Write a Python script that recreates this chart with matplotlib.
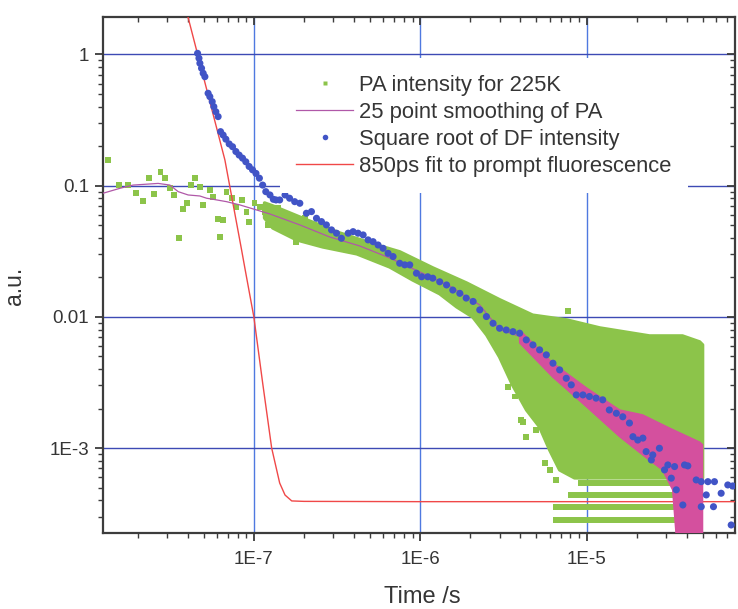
import numpy as np
import matplotlib
matplotlib.use('Agg')
import matplotlib.pyplot as plt
import matplotlib.lines as mlines
from matplotlib.lines import Line2D
from matplotlib.ticker import FixedLocator, FixedFormatter, LogLocator, NullFormatter

plt.rcParams['font.family'] = ['Liberation Sans', 'DejaVu Sans']

# ---------------- data ----------------
x_tick_vals = [1e-7, 1e-6, 1e-5]
x_tick_labels = ['1E-7', '1E-6', '1E-5']
y_tick_vals = [1e-3, 1e-2, 1e-1, 1.0]
y_tick_labels = ['1E-3', '0.01', '0.1', '1']

legend_labels = ['PA intensity for 225K', '25 point smoothing of PA',
                 'Square root of DF intensity', '850ps fit to prompt fluorescence']

# PA intensity: individual (sparse) points
pa_t = [1.33e-8, 1.55e-8, 1.76e-8, 1.96e-8, 2.15e-8, 2.35e-8, 2.52e-8, 2.75e-8, 2.92e-8, 3.13e-8,
        3.31e-8, 3.55e-8, 3.76e-8, 3.98e-8, 4.17e-8, 4.42e-8, 4.74e-8, 4.96e-8, 5.44e-8, 5.69e-8,
        6.10e-8, 6.54e-8, 6.25e-8, 6.85e-8, 7.35e-8, 7.87e-8, 8.44e-8, 9.04e-8, 9.37e-8, 1.01e-7,
        1.09e-7, 1.16e-7, 1.22e-7, 1.31e-7, 1.40e-7, 1.50e-7, 1.57e-7, 1.68e-7, 1.80e-7, 1.89e-7,
        2.02e-7, 2.17e-7, 2.38e-7, 2.61e-7, 2.86e-7, 3.14e-7,
        3.37e-6, 3.70e-6, 4.05e-6, 4.14e-6, 4.34e-6, 4.99e-6, 5.60e-6, 6.00e-6, 6.58e-6, 6.58e-6,
        6.58e-6, 7.55e-6, 7.55e-6, 7.72e-6]
pa_y = [0.157, 0.101, 0.101, 0.0875, 0.0769, 0.114, 0.0865, 0.128, 0.114, 0.0955,
        0.0849, 0.0397, 0.0661, 0.0734, 0.101, 0.114, 0.0982, 0.0713, 0.0927, 0.0824,
        0.0554, 0.0548, 0.0409, 0.0900, 0.0802, 0.0692, 0.0778, 0.0634, 0.0532, 0.0734,
        0.0692, 0.0634, 0.0502, 0.0616, 0.0673, 0.0487, 0.0580, 0.0532, 0.0374, 0.0487,
        0.0564, 0.0446, 0.0397, 0.0434, 0.0386, 0.0409,
        2.94e-3, 2.47e-3, 1.64e-3, 1.59e-3, 1.22e-3, 1.37e-3, 7.66e-4, 6.81e-4, 5.71e-4, 3.57e-4,
        2.83e-4, 3.57e-4, 2.83e-4, 0.0110]

# PA intensity: dense point cloud (upper and lower edge)
pa_up_t = [1.16e-7, 1.30e-7, 2.08e-7, 3.28e-7, 5.19e-7, 7.53e-7, 1.19e-6, 1.90e-6, 3.00e-6,
           4.74e-6, 7.59e-6, 1.20e-5, 2.39e-5, 3.77e-5, 4.78e-5, 4.98e-5]
pa_up_y = [0.0738, 0.0700, 0.0548, 0.0436, 0.0360, 0.0313, 0.0236, 0.0181, 0.0135,
           0.0103, 0.00947, 0.00823, 0.00715, 0.00715, 0.00644, 0.00611]
pa_lo_t = [1.16e-7, 1.30e-7, 1.81e-7, 2.60e-7, 4.16e-7, 6.56e-7, 9.02e-7, 1.31e-6, 1.66e-6,
           2.07e-6, 2.51e-6, 3.00e-6, 3.59e-6, 4.36e-6, 5.22e-6, 6.00e-6, 6.89e-6, 8.47e-6, 4.98e-5]
pa_lo_y = [0.0567, 0.0476, 0.0386, 0.0341, 0.0302, 0.0240, 0.0191, 0.0150, 0.0119,
           0.00998, 0.00728, 0.00495, 0.00303, 0.00195, 0.00145, 9.68e-4, 6.81e-4, 5.92e-4, 5.92e-4]

# PA intensity: quantised count levels at late times
pa_band_y = [5.39e-4, 4.39e-4, 3.57e-4, 2.83e-4]
pa_band_t0 = [8.83e-6, 7.69e-6, 6.61e-6, 6.61e-6]
pa_band_t1 = [4.98e-5, 4.98e-5, 4.98e-5, 4.98e-5]

# 25 point smoothing of PA
sm_t = [1.24e-8, 1.57e-8, 1.88e-8, 2.66e-8, 3.13e-8, 3.51e-8, 4.03e-8, 4.74e-8, 5.20e-8, 5.69e-8,
        6.85e-8, 8.24e-8, 1.25e-7, 1.89e-7, 2.86e-7, 4.33e-7, 6.56e-7, 9.93e-7, 1.50e-6, 2.28e-6,
        3.00e-6, 3.96e-6]
sm_y = [0.0875, 0.0955, 0.101, 0.104, 0.101, 0.0900, 0.0849, 0.0834, 0.0802, 0.0787,
        0.0755, 0.0713, 0.0608, 0.0502, 0.0406, 0.0347, 0.0281, 0.0220, 0.0172, 0.0123,
        0.0080, 0.0071]
# noisy part of the smoothing (upper / lower envelope)
sm_up_t = [3.96e-6, 6.25e-6, 1.0e-5, 1.58e-5, 2.17e-5, 3.15e-5, 4.78e-5, 4.98e-5]
sm_up_y = [7.94e-3, 4.45e-3, 2.87e-3, 1.95e-3, 1.79e-3, 1.42e-3, 1.11e-3, 1.06e-3]
sm_lo_t = [3.96e-6, 6.25e-6, 1.0e-5, 1.58e-5, 2.29e-5, 2.86e-5, 3.29e-5, 3.47e-5, 4.98e-5]
sm_lo_y = [6.32e-3, 3.48e-3, 2.06e-3, 1.22e-3, 8.41e-4, 6.81e-4, 4.80e-4, 2.0e-4, 2.0e-4]

# Square root of DF intensity
df_t = [4.59e-8, 4.68e-8, 4.74e-8, 4.85e-8, 4.96e-8, 5.08e-8, 5.31e-8, 5.44e-8, 5.62e-8, 5.75e-8,
        5.91e-8, 6.10e-8, 6.31e-8, 6.54e-8, 6.79e-8, 7.11e-8, 7.45e-8, 7.80e-8, 8.16e-8, 8.55e-8,
        8.95e-8, 9.37e-8, 9.82e-8, 1.03e-7, 1.08e-7, 1.13e-7, 1.18e-7, 1.25e-7, 1.31e-7, 1.36e-7,
        1.43e-7, 1.54e-7, 1.64e-7, 1.76e-7, 1.89e-7, 2.07e-7, 2.22e-7, 2.38e-7, 2.55e-7, 2.73e-7,
        2.93e-7, 3.14e-7, 3.36e-7, 3.69e-7, 3.95e-7, 4.23e-7, 4.54e-7, 4.86e-7, 5.21e-7, 5.58e-7,
        5.98e-7, 6.41e-7, 6.87e-7, 7.53e-7, 8.07e-7, 8.65e-7, 9.49e-7, 1.02e-6, 1.11e-6, 1.19e-6,
        1.31e-6, 1.44e-6, 1.57e-6, 1.73e-6, 1.89e-6, 2.08e-6, 2.28e-6, 2.50e-6, 2.74e-6, 3.00e-6,
        3.29e-6, 3.61e-6, 3.96e-6, 4.34e-6, 4.76e-6, 5.22e-6, 5.73e-6, 6.28e-6, 6.89e-6, 7.55e-6,
        8.09e-6, 8.67e-6, 9.51e-6, 1.04e-5, 1.14e-5, 1.25e-5, 1.37e-5, 1.51e-5, 1.65e-5, 1.81e-5,
        1.90e-5, 2.03e-5, 2.18e-5, 2.28e-5, 2.45e-5, 2.50e-5, 2.74e-5, 2.94e-5, 3.08e-5, 3.23e-5,
        3.38e-5, 3.46e-5, 3.79e-5, 3.88e-5, 4.06e-5, 4.56e-5, 4.89e-5, 4.89e-5, 5.24e-5, 5.36e-5,
        5.79e-5, 5.87e-5, 6.44e-5, 7.06e-5, 7.56e-5, 7.40e-5]
df_y = [1.02, 0.936, 0.857, 0.785, 0.719, 0.677, 0.506, 0.477, 0.437, 0.400,
        0.366, 0.336, 0.258, 0.243, 0.226, 0.208, 0.198, 0.182, 0.171, 0.162,
        0.152, 0.140, 0.132, 0.124, 0.114, 0.101, 0.090, 0.0849, 0.0787, 0.0778,
        0.0778, 0.0849, 0.0802, 0.0755, 0.0734, 0.0616, 0.0634, 0.0564, 0.0532, 0.0502,
        0.0460, 0.0434, 0.0397, 0.0434, 0.0446, 0.0434, 0.0421, 0.0386, 0.0374, 0.0353,
        0.0333, 0.0305, 0.0288, 0.0256, 0.0249, 0.0249, 0.0215, 0.0202, 0.0202, 0.0197,
        0.0185, 0.0175, 0.0160, 0.0151, 0.0139, 0.0131, 0.0113, 0.01005, 0.00893, 0.00818,
        0.00794, 0.00771, 0.00750, 0.00667, 0.00611, 0.00560, 0.00513, 0.00443, 0.00394, 0.00340,
        0.00303, 0.00254, 0.00254, 0.00247, 0.00240, 0.00233, 0.00195, 0.00184, 0.00173, 0.00155,
        0.00122, 0.00115, 0.00119, 9.39e-4, 8.11e-4, 8.86e-4, 9.96e-4, 6.81e-4, 7.43e-4, 5.89e-4,
        7.22e-4, 4.80e-4, 3.68e-4, 7.43e-4, 7.31e-4, 5.71e-4, 5.54e-4, 3.57e-4, 4.39e-4, 5.54e-4,
        3.57e-4, 5.54e-4, 4.52e-4, 5.23e-4, 5.14e-4, 2.59e-4]

# 850 ps fit to prompt fluorescence
fit_t = [3.9e-8, 4.02e-8, 6.7e-8, 8.44e-8, 8.83e-8, 1.0e-7, 1.13e-7, 1.28e-7, 1.43e-7, 1.54e-7,
         1.69e-7, 2.0e-7, 1e-6, 1e-5, 8e-5]
fit_y = [2.3, 1.93, 0.157, 0.0324, 0.0236, 0.01, 3.13e-3, 1.0e-3, 5.41e-4, 4.38e-4,
         3.95e-4, 3.92e-4, 3.9e-4, 3.9e-4, 3.9e-4]

# ---------------- styles ----------------
GREEN = '#8cc44a'
PINK = '#d4509e'
SMOOTH_LINE = '#b058a8'
BLUE = '#4154c6'
RED = '#f04848'
TEXT = '#353535'
SPINE = '#3c3c3c'

fig = plt.figure(figsize=(7.38, 6.09), dpi=100)
fig.patch.set_facecolor('white')
ax = fig.add_axes([103 / 738, 76 / 609, 632 / 738, 516 / 609])
ax.set_xscale('log')
ax.set_yscale('log')
ax.set_xlim(1.24e-8, 7.8e-5)
ax.set_ylim(2.25e-4, 1.93)
ax.set_axisbelow(True)

# PA cloud
ax.fill(np.concatenate([pa_up_t, pa_lo_t[::-1]]), np.concatenate([pa_up_y, pa_lo_y[::-1]]),
        facecolor=GREEN, edgecolor=GREEN, lw=2.5, joinstyle='round', zorder=2)
ax.hlines(pa_band_y, pa_band_t0, pa_band_t1, colors=GREEN, lw=4.3, zorder=2)
ax.scatter(pa_t, pa_y, s=18, marker='s', color=GREEN, edgecolors='none', zorder=2.1)

# fit
ax.plot(fit_t, fit_y, color=RED, lw=1.0, zorder=3)

# smoothing
ax.plot(sm_t, sm_y, color=SMOOTH_LINE, lw=0.9, zorder=3.5)
ax.fill(np.concatenate([sm_up_t, sm_lo_t[::-1]]), np.concatenate([sm_up_y, sm_lo_y[::-1]]),
        facecolor=PINK, edgecolor=PINK, lw=1.0, zorder=3.5)

# DF
ax.scatter(df_t, df_y, s=26, marker='o', color=BLUE, edgecolors='none', zorder=4)

# grid
ax.xaxis.grid(True, which='major', color='#4f79e0', lw=1.0)
ax.yaxis.grid(True, which='major', color='#3d4ab4', lw=1.0)

# ticks
ax.xaxis.set_major_locator(FixedLocator(x_tick_vals))
ax.xaxis.set_major_formatter(FixedFormatter(x_tick_labels))
ax.xaxis.set_minor_locator(LogLocator(base=10, subs=np.arange(2, 10), numticks=30))
ax.xaxis.set_minor_formatter(NullFormatter())
ax.yaxis.set_major_locator(FixedLocator(y_tick_vals))
ax.yaxis.set_major_formatter(FixedFormatter(y_tick_labels))
ax.yaxis.set_minor_locator(LogLocator(base=10, subs=np.arange(2, 10), numticks=30))
ax.yaxis.set_minor_formatter(NullFormatter())
ax.tick_params(which='both', direction='out', top=True, right=True, color=SPINE,
               labelcolor=TEXT, labelsize=13.5)
ax.tick_params(which='major', length=6, width=1.3)
ax.tick_params(which='minor', length=3.5, width=1.0)
ax.tick_params(axis='x', which='major', pad=7)
ax.tick_params(axis='y', which='major', pad=4)
for sp in ax.spines.values():
    sp.set_color(SPINE)
    sp.set_linewidth(1.6)

# mirrored ticks on top / right point inward (outward on bottom / left)
for tk in ax.xaxis.get_major_ticks() + ax.xaxis.get_minor_ticks():
    tk.tick2line.set_marker(mlines.TICKDOWN)
for tk in ax.yaxis.get_major_ticks() + ax.yaxis.get_minor_ticks():
    tk.tick2line.set_marker(mlines.TICKLEFT)

# labels
ax.set_xlabel('Time /s', fontsize=17, color=TEXT)
ax.xaxis.set_label_coords(0.505, -0.103)
ax.set_ylabel('a.u.', fontsize=16.5, color=TEXT)
ax.yaxis.set_label_coords(-0.122, 0.479)

# legend
handles = [
    Line2D([], [], ls='none', marker='s', ms=3, color=GREEN, mec='none'),
    Line2D([], [], color=SMOOTH_LINE, lw=0.9),
    Line2D([], [], ls='none', marker='o', ms=4, color=BLUE, mec='none'),
    Line2D([], [], color=RED, lw=1.0),
]
leg = ax.legend(handles, legend_labels, loc='upper left', bbox_to_anchor=(0.28, 0.920),
                frameon=True, facecolor='white', edgecolor='none', framealpha=1,
                fontsize=15.8, handlelength=2.6, handletextpad=0.27, labelspacing=0.27,
                borderpad=0.75, borderaxespad=0, labelcolor=TEXT, fancybox=False)
leg.set_zorder(5)

fig.savefig('out.png', dpi=100, facecolor='white')
